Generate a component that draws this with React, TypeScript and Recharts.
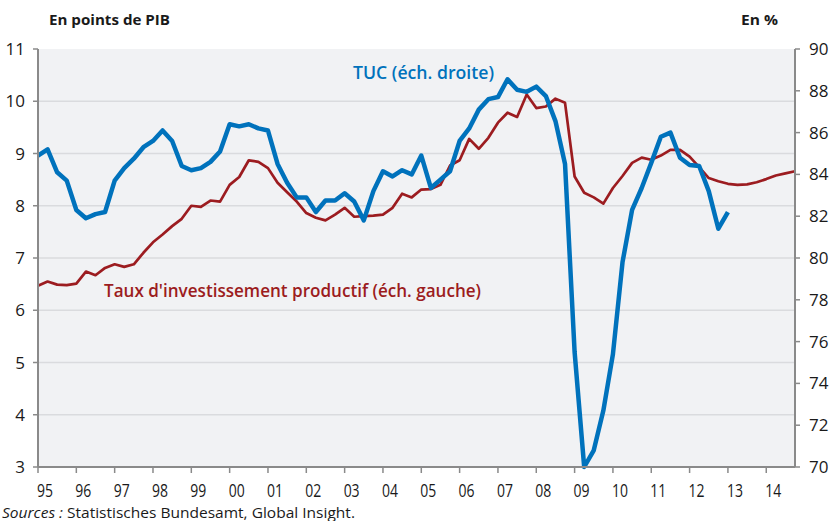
import React from "react";
import { LineChart, Line, XAxis, YAxis, CartesianGrid } from "recharts";

// Quarterly data, 1995T1 onwards
const FIRST_YEAR = 1995;
const YEAR_TICKS = [1995, 1996, 1997, 1998, 1999, 2000, 2001, 2002, 2003, 2004, 2005, 2006, 2007, 2008, 2009, 2010, 2011, 2012, 2013, 2014];
const LEFT_TICKS = [3, 4, 5, 6, 7, 8, 9, 10, 11];
const GRID_VALUES = [4, 5, 6, 7, 8, 9, 10];
const RIGHT_TICKS = [70, 72, 74, 76, 78, 80, 82, 84, 86, 88, 90];

// TUC (taux d'utilisation des capacités), right axis, %
const TUC = [
  84.9, 85.2, 84.1, 83.7, 82.3, 81.9, 82.1, 82.2,
  83.7, 84.3, 84.75, 85.3, 85.6, 86.1, 85.6, 84.4,
  84.2, 84.3, 84.6, 85.1, 86.4, 86.3, 86.4, 86.2,
  86.1, 84.5, 83.6, 82.9, 82.9, 82.2, 82.75, 82.75,
  83.1, 82.7, 81.8, 83.2, 84.15, 83.9, 84.2, 84.0,
  84.9, 83.35, 83.75, 84.15, 85.6, 86.2, 87.1, 87.6,
  87.7, 88.55, 88.05, 87.95, 88.2, 87.75, 86.55, 84.5,
  75.5, 70.0, 70.8, 72.7, 75.4, 79.8, 82.3, 83.35,
  84.55, 85.8, 86.0, 84.8, 84.45, 84.4, 83.2, 81.4,
  82.2,
];

// Taux d'investissement productif, left axis, points de PIB
const TAUX = [
  6.47, 6.55, 6.49, 6.48, 6.51, 6.74, 6.67, 6.81,
  6.88, 6.83, 6.88, 7.10, 7.30, 7.45, 7.61, 7.75,
  8.00, 7.98, 8.10, 8.08, 8.40, 8.55, 8.87, 8.84,
  8.72, 8.44, 8.26, 8.08, 7.86, 7.77, 7.72, 7.83,
  7.96, 7.79, 7.80, 7.81, 7.83, 7.96, 8.23, 8.16,
  8.31, 8.32, 8.40, 8.77, 8.87, 9.28, 9.09, 9.30,
  9.59, 9.78, 9.70, 10.13, 9.87, 9.90, 10.05, 9.97,
  8.56, 8.25, 8.16, 8.04, 8.34, 8.57, 8.82, 8.92,
  8.88, 8.96, 9.07, 9.07, 8.94, 8.74, 8.53, 8.47,
  8.42, 8.40, 8.41, 8.45, 8.51, 8.58, 8.62, 8.66,
];

const data = TAUX.map((v, i) => ({
  t: FIRST_YEAR + i / 4,
  taux: v,
  tuc: i < TUC.length ? TUC[i] : null,
}));

const BLUE = "#0072BC";
const RED = "#9C1C20";
const AXIS = "#8a8a8a";
const FONT = "'Open Sans', 'Noto Sans', sans-serif";

const XTick = (props: any) => {
  const { x, y, payload } = props;
  const label = String(payload.value).slice(2);
  return (
    <text
      x={x + 7}
      y={y}
      dy={22}
      textAnchor="middle"
      fontFamily={FONT}
      fontSize={18}
      fill="#1a1a1a"
      textLength={16}
      lengthAdjust="spacingAndGlyphs"
    >
      {label}
    </text>
  );
};

export default function App() {
  return (
    <div style={{ position: "absolute", left: 0, top: 0, width: 833, height: 521, background: "#fff" }}>
      <LineChart
        width={833}
        height={521}
        data={data}
        margin={{ top: 49, right: 0, bottom: 24, left: 0 }}
      >
        <CartesianGrid
          yAxisId="left"
          vertical={false}
          horizontalValues={GRID_VALUES}
          fill="#F1F2F4"
          stroke="#DADBDE"
          strokeWidth={1.5}
        />
        <XAxis
          dataKey="t"
          type="number"
          domain={[1995, 2014.75]}
          ticks={YEAR_TICKS}
          height={30}
          tickSize={6}
          tickMargin={2}
          axisLine={{ stroke: AXIS, strokeWidth: 2 }}
          tickLine={{ stroke: AXIS, strokeWidth: 1.5 }}
          tick={<XTick />}
          interval={0}
        />
        <YAxis
          yAxisId="left"
          orientation="left"
          width={38}
          domain={[3, 11]}
          ticks={LEFT_TICKS}
          interval={0}
          tickSize={5}
          tickMargin={8}
          axisLine={{ stroke: AXIS, strokeWidth: 2 }}
          tickLine={{ stroke: AXIS, strokeWidth: 1.5 }}
          tick={{ fontFamily: FONT, fontSize: 17, fill: "#1a1a1a" }}
        />
        <YAxis
          yAxisId="right"
          orientation="right"
          width={38}
          domain={[70, 90]}
          ticks={RIGHT_TICKS}
          interval={0}
          tickSize={5}
          tickMargin={9}
          axisLine={{ stroke: AXIS, strokeWidth: 2 }}
          tickLine={{ stroke: AXIS, strokeWidth: 1.5 }}
          tick={{ fontFamily: FONT, fontSize: 17, fill: "#1a1a1a" }}
        />
        <Line
          yAxisId="left"
          dataKey="taux"
          type="linear"
          stroke={RED}
          strokeWidth={2.7}
          dot={false}
          activeDot={false}
          strokeLinejoin="round"
          isAnimationActive={false}
        />
        <Line
          yAxisId="right"
          dataKey="tuc"
          type="linear"
          stroke={BLUE}
          strokeWidth={4.5}
          dot={false}
          activeDot={false}
          strokeLinejoin="round"
          connectNulls={false}
          isAnimationActive={false}
        />
      </LineChart>
      <svg
        width={833}
        height={521}
        style={{ position: "absolute", left: 0, top: 0, pointerEvents: "none" }}
      >
        <text x={49} y={25} fontFamily={FONT} fontWeight={700} fontSize={14} fill="#1a1a1a" textLength={121} lengthAdjust="spacingAndGlyphs">
          En points de PIB
        </text>
        <text x={741} y={25} fontFamily={FONT} fontWeight={700} fontSize={14} fill="#1a1a1a" textLength={37} lengthAdjust="spacingAndGlyphs">
          En %
        </text>
        <text x={353} y={79} fontFamily={FONT} fontWeight={600} fontSize={18} fill={BLUE} textLength={141} lengthAdjust="spacingAndGlyphs">
          TUC (éch. droite)
        </text>
        <text x={104} y={297} fontFamily={FONT} fontWeight={600} fontSize={18} fill={RED} textLength={377} lengthAdjust="spacingAndGlyphs">
          Taux d'investissement productif (éch. gauche)
        </text>
        <text x={2} y={518} fontFamily={FONT} fontSize={15} fill="#1a1a1a" textLength={353} lengthAdjust="spacingAndGlyphs">
          <tspan fontStyle="italic">Sources :</tspan>
          <tspan> Statistisches Bundesamt, Global Insight.</tspan>
        </text>
      </svg>
    </div>
  );
}
